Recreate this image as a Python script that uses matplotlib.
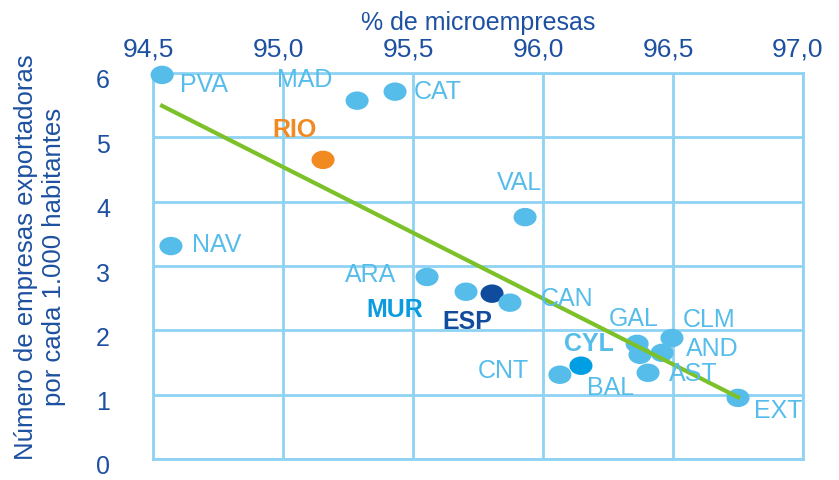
import matplotlib
matplotlib.use("Agg")
import matplotlib.pyplot as plt
from matplotlib.path import Path
from matplotlib.transforms import Affine2D, ScaledTranslation

plt.rcParams['font.family'] = ['Liberation Sans', 'DejaVu Sans']

# Data
regions = ["PVA", "MAD", "CAT", "RIO", "VAL", "NAV", "ARA", "MUR", "ESP", "CAN",
           "CNT", "CYL", "GAL", "BAL", "AND", "CLM", "AST", "EXT"]
pct_micro = [94.535, 95.285, 95.431, 95.154, 95.931, 94.569, 95.554, 95.704, 95.804, 95.873,
             96.065, 96.146, 96.362, 96.373, 96.458, 96.496, 96.404, 96.750]
exporters = [5.97, 5.57, 5.71, 4.65, 3.76, 3.31, 2.83, 2.60, 2.57, 2.43,
             1.31, 1.45, 1.79, 1.62, 1.65, 1.88, 1.34, 0.95]
trend_x = [94.535, 96.75]
trend_y = [5.49, 0.96]
x_ticks = [94.5, 95.0, 95.5, 96.0, 96.5, 97.0]
x_tick_labels = ["94,5", "95,0", "95,5", "96,0", "96,5", "97,0"]
y_ticks = [0, 1, 2, 3, 4, 5, 6]

# Styles
LIGHT = "#56BDEB"
GRID = "#8FD3F3"
DARK = "#1D50A0"
point_colors = {"RIO": "#F28A22", "ESP": "#0F4C9E", "CYL": "#009EE2"}
label_style = {"RIO": ("#F28A22", "bold"), "ESP": ("#124C9C", "bold"),
               "MUR": ("#0A9CDF", "bold"), "CYL": (LIGHT, "bold")}
# label offsets in pixels (dx right, dy down) from point to label left edge / vertical center
label_offsets = {"PVA": (18, 10), "MAD": (-80, -21), "CAT": (19, 0), "RIO": (-51, -30),
                 "VAL": (-28, -34), "NAV": (21, -1), "ARA": (-82, -2), "MUR": (-100, 18),
                 "ESP": (-50, 28), "CAN": (31, -4), "CNT": (-82, -4), "CYL": (-17, -22),
                 "GAL": (-28, -25), "BAL": (-53, 33), "AND": (24, -4), "CLM": (11, -18),
                 "AST": (21, 1), "EXT": (16, 13)}

fig = plt.figure(figsize=(8.39, 4.80), dpi=100)
ax = fig.add_axes([153/839, 1-459/480, 650/839, 386/480])
ax.set_xlim(94.5, 97.0)
ax.set_ylim(0, 6)

ax.set_xticks(x_ticks)
ax.set_xticklabels(x_tick_labels)
ax.set_yticks(y_ticks)
ax.xaxis.tick_top()
ax.xaxis.set_label_position("top")
ax.tick_params(axis="x", length=0, pad=8, labelsize=19, labelcolor=DARK)
ax.tick_params(axis="y", length=0, pad=31, labelsize=18, labelcolor=DARK)
for lab in ax.get_xticklabels():
    lab.set_transform(lab.get_transform() + ScaledTranslation(-5/100, 0, fig.dpi_scale_trans))
for lab in ax.get_yticklabels():
    lab.set_transform(lab.get_transform() + ScaledTranslation(0, -6/100, fig.dpi_scale_trans))

ax.grid(True, color=GRID, linewidth=2)
ax.set_axisbelow(True)
for sp in ax.spines.values():
    sp.set_color(GRID)
    sp.set_linewidth(2)

ax.set_xlabel("% de microempresas", fontsize=18, color=DARK, labelpad=6)
fig.text(40/839, 1-257/480, "Número de empresas exportadoras\npor cada 1.000 habitantes",
         rotation=90, ha="center", va="center", fontsize=18.5, color=DARK, linespacing=1.25)

# ellipse marker
ell = Affine2D().scale(1.25, 1.0).transform_path(Path.unit_circle())
cols = [point_colors.get(r, LIGHT) for r in regions]
ax.plot(trend_x, trend_y, color="#7DC12A", linewidth=3, zorder=4)
ax.scatter(pct_micro, exporters, s=16.6**2, marker=ell, c=cols, edgecolors="none",
           zorder=3, clip_on=False)

for r, x, y in zip(regions, pct_micro, exporters):
    dx, dy = label_offsets[r]
    color, weight = label_style.get(r, (LIGHT, "normal"))
    ax.annotate(r, (x, y), xytext=(dx*0.72, -dy*0.72), textcoords="offset points",
                ha="left", va="center", fontsize=18, color=color, fontweight=weight,
                zorder=5, annotation_clip=False)

fig.savefig("out.png", dpi=100)
